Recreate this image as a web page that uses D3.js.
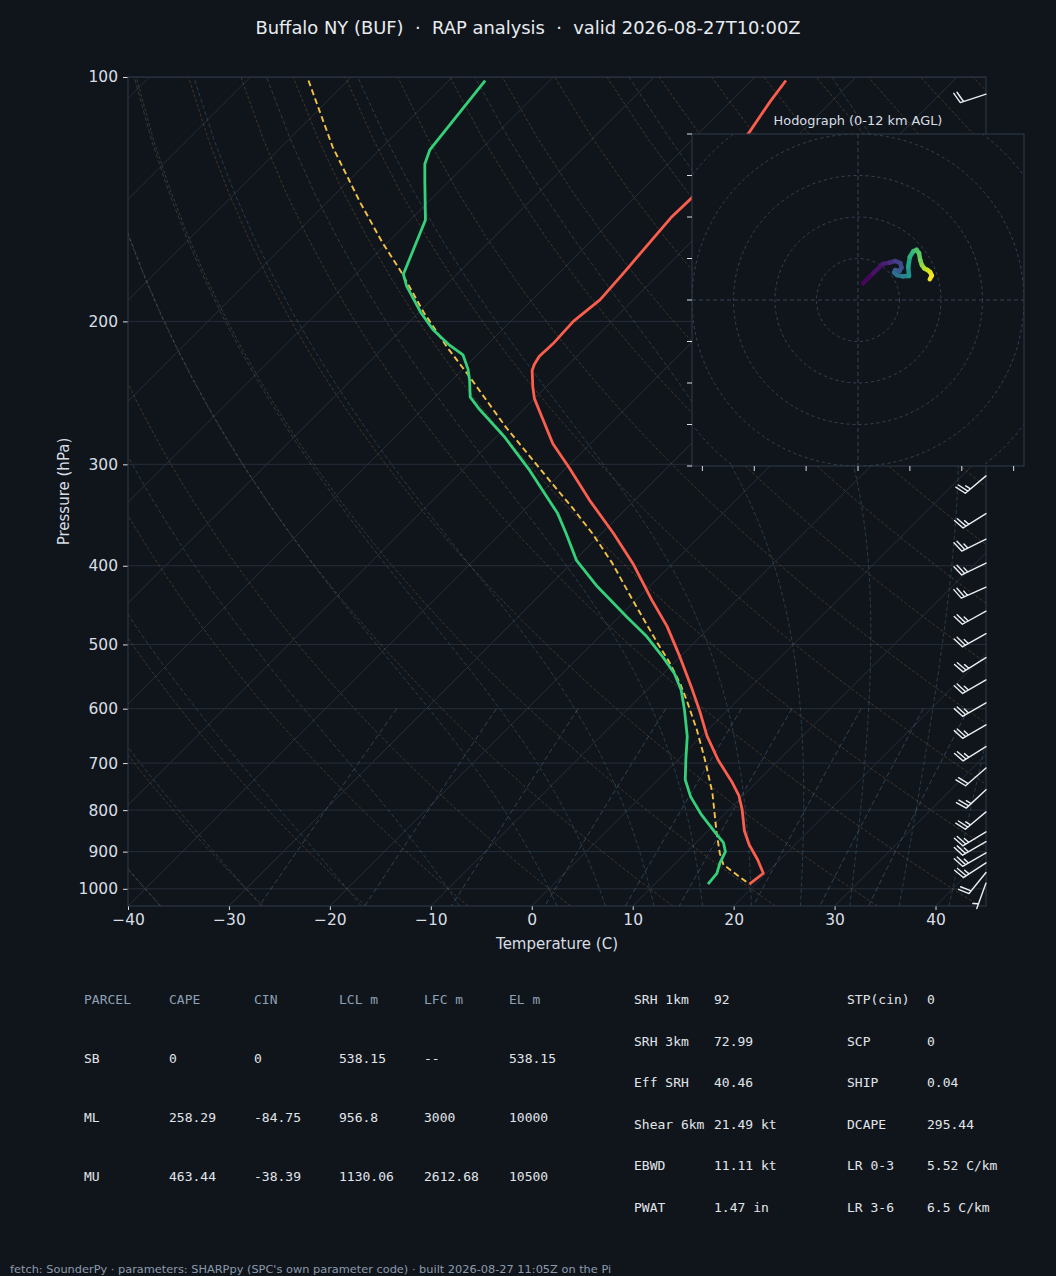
<!DOCTYPE html>
<html>
<head>
<meta charset="utf-8">
<script src="https://cdn.jsdelivr.net/npm/d3@7"></script>
<style>
  html, body { margin: 0; padding: 0; background: #10151c; }
  svg { display: block; }
</style>
</head>
<body>
<div id="chart"></div>
<script>
// ---- sounding values ----
const tempP = [101, 107, 117, 141, 149, 175, 188, 200, 213, 221, 226, 230, 241, 249, 262, 283, 303, 332, 365, 399, 441, 475, 518, 564, 605, 648, 694, 738, 768, 799, 848, 883, 921, 957, 987];
const tempC = [-56.6, -56.1, -55.1, -54.3, -54.4, -53.6, -53.3, -53.8, -53.6, -53.7, -53.4, -53.0, -51.3, -50.0, -47.5, -43.7, -39.7, -34.5, -28.8, -23.7, -18.4, -14.3, -10.0, -5.9, -2.6, 0.5, 4.0, 7.5, 9.6, 11.3, 13.6, 15.5, 17.8, 19.7, 19.4];

const dewP = [101, 123, 128, 134, 150, 175, 181, 195, 205, 214, 220, 229, 236, 248, 257, 277, 305, 345, 365, 394, 424, 462, 489, 518, 543, 569, 602, 649, 694, 734, 770, 811, 854, 877, 900, 930, 957, 987];
const dewC = [-86.4, -85.0, -84.1, -82.5, -78.5, -75.3, -73.8, -69.8, -66.8, -63.7, -61.4, -59.5, -58.3, -56.5, -54.3, -49.3, -43.4, -36.3, -33.5, -29.8, -25.2, -19.3, -15.3, -11.7, -8.9, -6.6, -4.3, -1.4, 0.8, 2.7, 4.9, 7.8, 11.0, 12.7, 13.8, 14.4, 15.1, 15.3];

const parcelP = [101, 122, 143, 160, 174, 195, 215, 234, 270, 315, 340, 365, 397, 441, 498, 527, 558, 585, 637, 694, 762, 854, 904, 934, 987];
const parcelC = [-103.9, -94.9, -86.6, -80.5, -75.7, -69.5, -63.8, -58.6, -50.0, -40.2, -35.3, -30.9, -26.0, -20.3, -13.6, -10.4, -7.4, -5.1, -1.1, 2.7, 6.7, 11.1, 13.4, 14.9, 19.4];

// wind barbs (hPa, direction deg, knots)
const barbP = [105, 125, 150, 175, 200, 225, 250, 280, 310, 345, 371, 397, 425, 455, 485, 519, 553, 590, 628, 668, 710, 755, 804, 851, 875, 903, 929, 955, 984];
const barbDir = [252, 250, 248, 245, 243, 240, 238, 235, 230, 238, 244, 244, 246, 241, 241, 238, 240, 240, 240, 238, 229, 227, 230, 239, 240, 240, 237, 219, 200];
const barbKt = [20, 30, 35, 35, 35, 30, 30, 25, 25, 25, 25, 25, 25, 25, 25, 25, 25, 25, 25, 25, 20, 25, 25, 25, 25, 25, 25, 20, 5];

// hodograph trace 0-12 km
const hodoU = [1.2, 3.6, 6.0, 7.6, 9.0, 10.2, 10.5, 10.0, 9.0, 8.7, 9.4, 10.8, 12.3, 12.1, 12.5, 13.3, 14.1, 14.7, 15.0, 15.4, 16.0, 16.8, 17.4, 17.8, 17.3];
const hodoV = [4.0, 6.4, 8.7, 9.0, 9.4, 8.9, 7.8, 7.0, 7.2, 6.6, 6.0, 5.7, 5.8, 8.0, 10.4, 11.7, 12.1, 11.3, 9.6, 8.4, 7.6, 7.2, 6.7, 5.9, 5.0];
const hodoKm = [0, 0.4, 0.8, 1.2, 1.9, 2.4, 2.8, 3.1, 3.4, 3.8, 4.3, 4.9, 5.6, 6.6, 7.4, 8.0, 8.4, 8.8, 9.3, 9.8, 10.3, 10.8, 11.3, 11.7, 12.0];
const hodoRings = [10, 20, 30, 40, 50, 60];
const hodoTicksX = [-37.5, -25, -12.5, 0, 12.5, 25, 37.5];
const hodoTicksY = [-40, -30, -20, -10, 0, 10, 20, 30, 40];

// axis ticks
const pTicks = [1000, 900, 800, 700, 600, 500, 400, 300, 200, 100];
const tTicks = [-40, -30, -20, -10, 0, 10, 20, 30, 40];

// parameter tables
const parcelHeader = ["PARCEL", "CAPE", "CIN", "LCL m", "LFC m", "EL m"];
const parcelRows = [
  ["SB", "0", "0", "538.15", "--", "538.15"],
  ["ML", "258.29", "-84.75", "956.8", "3000", "10000"],
  ["MU", "463.44", "-38.39", "1130.06", "2612.68", "10500"]
];
const paramLabels1 = ["SRH 1km", "SRH 3km", "Eff SRH", "Shear 6km", "EBWD", "PWAT"];
const paramValues1 = ["92", "72.99", "40.46", "21.49 kt", "11.11 kt", "1.47 in"];
const paramLabels2 = ["STP(cin)", "SCP", "SHIP", "DCAPE", "LR 0-3", "LR 3-6"];
const paramValues2 = ["0", "0", "0.04", "295.44", "5.52 C/km", "6.5 C/km"];

// ---- layout ----
const width = 1056, height = 1276;
const plot = {left: 128, right: 986, top: 77, bottom: 906};
const bg = "#10151c";
const spine = "#2f3a48";
const gridCol = "#262e39";
const textCol = "#d9dee4";

const svg = d3.select("#chart").append("svg")
  .attr("width", width).attr("height", height)
  .style("font-family", "'DejaVu Sans', sans-serif");

svg.append("rect").attr("width", width).attr("height", height).attr("fill", bg);

const x = d3.scaleLinear().domain([-40, 45]).range([plot.left, plot.right]);
const y = d3.scaleLog().domain([1050, 100]).range([plot.bottom, plot.top]);
// 45 degree skew in pixels
const sx = (t, p) => x(t) + (plot.bottom - y(p));

svg.append("defs").append("clipPath").attr("id", "plotClip")
  .append("rect")
  .attr("x", plot.left).attr("y", plot.top)
  .attr("width", plot.right - plot.left).attr("height", plot.bottom - plot.top);

const g = svg.append("g").attr("clip-path", "url(#plotClip)");

// isobars
g.selectAll(".isobar").data(pTicks).join("line")
  .attr("x1", plot.left).attr("x2", plot.right)
  .attr("y1", d => y(d)).attr("y2", d => y(d))
  .attr("stroke", gridCol).attr("stroke-width", 1);

// isotherms
g.selectAll(".isotherm").data(d3.range(-130, 50, 10)).join("line")
  .attr("x1", d => sx(d, 1050)).attr("y1", y(1050))
  .attr("x2", d => sx(d, 100)).attr("y2", y(100))
  .attr("stroke", gridCol).attr("stroke-width", 1);

const line = d3.line().x(d => sx(d[1], d[0])).y(d => y(d[0]));
const levels = d3.range(50).map(i => 1050 - i * (950 / 49));

// dry adiabats
const dryT0 = d3.range(-40, 246, 10);
g.selectAll(".dry").data(dryT0).join("path")
  .attr("d", t0 => line(levels.map(p => [p, (t0 + 273.15) * Math.pow(p / 1000, 0.2857) - 273.15])))
  .attr("fill", "none").attr("stroke", "rgba(205,140,65,0.3)")
  .attr("stroke-width", 0.9).attr("stroke-dasharray", "3,2");

// moist adiabats
const Rd = 287.04749, Cp = 1004.666, Lv = 2.50084e6, eps = 0.62196;
function dTdp(p, T) {
  const es = 6.112 * Math.exp(17.67 * (T - 273.15) / (T - 29.65));
  const rs = eps * es / (p - es);
  return (Rd * T + Lv * rs) / (Cp + Lv * Lv * rs * eps / (Rd * T * T)) / p;
}
function moistAt(t0, p) {
  let T = t0 + 273.15, cur = 1000;
  const n = Math.max(4, Math.ceil(Math.abs(p - cur) / 4));
  const h = (p - cur) / n;
  for (let i = 0; i < n; i++) {
    const k1 = dTdp(cur, T);
    const k2 = dTdp(cur + h / 2, T + h / 2 * k1);
    const k3 = dTdp(cur + h / 2, T + h / 2 * k2);
    const k4 = dTdp(cur + h, T + h * k3);
    T += h / 6 * (k1 + 2 * k2 + 2 * k3 + k4);
    cur += h;
  }
  return T - 273.15;
}
const moistT0 = [-40, -30, -20, -10, 0, 5, 10, 15, 20, 25, 30, 35, 40, 45];
g.selectAll(".moist").data(moistT0).join("path")
  .attr("d", t0 => line(levels.map(p => [p, moistAt(t0, p)])))
  .attr("fill", "none").attr("stroke", "rgba(85,140,160,0.36)")
  .attr("stroke-width", 0.9).attr("stroke-dasharray", "4,2.5");

// mixing ratio lines
const mixW = [0.0004, 0.001, 0.002, 0.004, 0.007, 0.01, 0.016, 0.024, 0.032];
const mixLevels = d3.range(30).map(i => 600 + i * (450 / 29));
g.selectAll(".mix").data(mixW).join("path")
  .attr("d", w => line(mixLevels.map(p => {
    const e = w * p / (eps + w);
    const l = Math.log(e / 6.112);
    return [p, 243.5 * l / (17.67 - l)];
  })))
  .attr("fill", "none").attr("stroke", "rgba(95,130,165,0.45)")
  .attr("stroke-width", 0.9).attr("stroke-dasharray", "5,3");

// profiles
g.append("path").datum(d3.zip(parcelP, parcelC)).attr("d", line)
  .attr("fill", "none").attr("stroke", "#f3c146").attr("stroke-width", 1.9)
  .attr("stroke-dasharray", "6,3.5");
g.append("path").datum(d3.zip(dewP, dewC)).attr("d", line)
  .attr("fill", "none").attr("stroke", "#34d07a").attr("stroke-width", 2.8)
  .attr("stroke-linejoin", "round");
g.append("path").datum(d3.zip(tempP, tempC)).attr("d", line)
  .attr("fill", "none").attr("stroke", "#fb5e4c").attr("stroke-width", 2.8)
  .attr("stroke-linejoin", "round");

// axes
const xAxis = svg.append("g").attr("transform", `translate(0,${plot.bottom})`)
  .call(d3.axisBottom(x).tickValues(tTicks).tickSize(4).tickPadding(4));
const yAxis = svg.append("g").attr("transform", `translate(${plot.left},0)`)
  .call(d3.axisLeft(y).tickValues(pTicks).tickFormat(d3.format("d")).tickSize(5).tickPadding(5));
[xAxis, yAxis].forEach(a => {
  a.select(".domain").remove();
  a.selectAll(".tick line").attr("stroke", textCol);
  a.selectAll(".tick text").attr("fill", textCol)
    .style("font-family", "'DejaVu Sans', sans-serif").style("font-size", "15.5px");
});

svg.append("rect")
  .attr("x", plot.left).attr("y", plot.top)
  .attr("width", plot.right - plot.left).attr("height", plot.bottom - plot.top)
  .attr("fill", "none").attr("stroke", spine).attr("stroke-width", 1);

svg.append("text").attr("x", (plot.left + plot.right) / 2).attr("y", 949)
  .attr("text-anchor", "middle").attr("fill", textCol).style("font-size", "15px")
  .text("Temperature (C)");
svg.append("text").attr("transform", `translate(69,${(plot.top + plot.bottom) / 2}) rotate(-90)`)
  .attr("text-anchor", "middle").attr("fill", textCol).style("font-size", "15px")
  .text("Pressure (hPa)");

// title
svg.append("text").attr("x", width / 2).attr("y", 33.5)
  .attr("text-anchor", "middle").attr("fill", "#e8ebef")
  .style("font-size", "17.9px").style("white-space", "pre")
  .text("Buffalo NY (BUF)  \u00b7  RAP analysis  \u00b7  valid 2026-08-27T10:00Z");

// wind barbs
const staff = 27, bSpace = 0.125 * staff, bHeight = 0.4 * staff, bWidth = 0.25 * staff;
const barbG = svg.append("g").attr("stroke", "#e9edf1").attr("stroke-width", 1.4)
  .attr("fill", "none").attr("stroke-linecap", "round");
d3.zip(barbP, barbDir, barbKt).forEach(([p, dir, kt]) => {
  const b = dir * Math.PI / 180;
  const dx = Math.sin(b), dy = -Math.cos(b);
  const nx = Math.cos(b), ny = Math.sin(b);
  const px = plot.right, py = y(p);
  const ex = px + staff * dx, ey = py + staff * dy;
  let d = `M${px},${py}L${ex},${ey}`;
  const full = Math.floor(kt / 10), half = (kt % 10) >= 5;
  let off = 0;
  for (let i = 0; i < full; i++) {
    const bx = ex - off * dx, by = ey - off * dy;
    d += `M${bx},${by}L${bx + bHeight * nx + bWidth / 2 * dx},${by + bHeight * ny + bWidth / 2 * dy}`;
    off += bSpace;
  }
  if (half) {
    if (full === 0) off += 1.5 * bSpace;
    const bx = ex - off * dx, by = ey - off * dy;
    d += `M${bx},${by}L${bx + bHeight / 2 * nx + bWidth / 4 * dx},${by + bHeight / 2 * ny + bWidth / 4 * dy}`;
  }
  barbG.append("path").attr("d", d);
});

// ---- hodograph inset ----
const hodo = {left: 692, right: 1024, top: 134, bottom: 466};
const hx = d3.scaleLinear().domain([-40, 40]).range([hodo.left, hodo.right]);
const hy = d3.scaleLinear().domain([-40, 40]).range([hodo.bottom, hodo.top]);
const hk = (hodo.right - hodo.left) / 80;

svg.select("defs").append("clipPath").attr("id", "hodoClip")
  .append("rect").attr("x", hodo.left).attr("y", hodo.top)
  .attr("width", hodo.right - hodo.left).attr("height", hodo.bottom - hodo.top);

svg.append("rect").attr("x", hodo.left).attr("y", hodo.top)
  .attr("width", hodo.right - hodo.left).attr("height", hodo.bottom - hodo.top)
  .attr("fill", bg);

const hg = svg.append("g").attr("clip-path", "url(#hodoClip)");
hg.selectAll(".ring").data(hodoRings).join("circle")
  .attr("cx", hx(0)).attr("cy", hy(0)).attr("r", d => d * hk)
  .attr("fill", "none").attr("stroke", "#364252").attr("stroke-width", 1)
  .attr("stroke-dasharray", "3,3");
hg.append("line").attr("x1", hodo.left).attr("x2", hodo.right).attr("y1", hy(0)).attr("y2", hy(0))
  .attr("stroke", "#364252").attr("stroke-dasharray", "4,3");
hg.append("line").attr("y1", hodo.top).attr("y2", hodo.bottom).attr("x1", hx(0)).attr("x2", hx(0))
  .attr("stroke", "#364252").attr("stroke-dasharray", "4,3");

const hodoPts = d3.zip(hodoU, hodoV, hodoKm);
hg.selectAll(".hseg").data(d3.pairs(hodoPts)).join("line")
  .attr("x1", d => hx(d[0][0])).attr("y1", d => hy(d[0][1]))
  .attr("x2", d => hx(d[1][0])).attr("y2", d => hy(d[1][1]))
  .attr("stroke", d => d3.interpolateViridis((d[0][2] + d[1][2]) / 24))
  .attr("stroke-width", 4.5).attr("stroke-linecap", "round");

svg.append("rect").attr("x", hodo.left).attr("y", hodo.top)
  .attr("width", hodo.right - hodo.left).attr("height", hodo.bottom - hodo.top)
  .attr("fill", "none").attr("stroke", spine).attr("stroke-width", 1);

svg.append("g").selectAll("line").data(hodoTicksY).join("line")
  .attr("x1", hodo.left - 5).attr("x2", hodo.left).attr("y1", d => hy(d)).attr("y2", d => hy(d))
  .attr("stroke", textCol);
svg.append("g").selectAll("line").data(hodoTicksX).join("line")
  .attr("y1", hodo.bottom).attr("y2", hodo.bottom + 5).attr("x1", d => hx(d)).attr("x2", d => hx(d))
  .attr("stroke", textCol);

svg.append("text").attr("x", (hodo.left + hodo.right) / 2).attr("y", 124.5)
  .attr("text-anchor", "middle").attr("fill", textCol).style("font-size", "12.9px")
  .text("Hodograph (0-12 km AGL)");

// ---- tables ----
const mono = "'DejaVu Sans Mono', monospace";
const colX = [84, 169, 254, 339, 424, 509];
const rowY = [1004, 1063, 1122, 1181];
const tab = svg.append("g").style("font-family", mono).style("font-size", "13px");
parcelHeader.forEach((h, i) => {
  tab.append("text").attr("x", colX[i]).attr("y", rowY[0]).attr("fill", "#8ea0b4").text(h);
});
parcelRows.forEach((row, r) => row.forEach((v, i) => {
  tab.append("text").attr("x", colX[i]).attr("y", rowY[r + 1]).attr("fill", "#e1e5ea").text(v);
}));

const pRowY = [1004, 1046, 1087, 1129, 1170, 1212];
paramLabels1.forEach((l, i) => {
  tab.append("text").attr("x", 634).attr("y", pRowY[i]).attr("fill", "#e1e5ea").text(l);
  tab.append("text").attr("x", 714).attr("y", pRowY[i]).attr("fill", "#e1e5ea").text(paramValues1[i]);
  tab.append("text").attr("x", 847).attr("y", pRowY[i]).attr("fill", "#e1e5ea").text(paramLabels2[i]);
  tab.append("text").attr("x", 927).attr("y", pRowY[i]).attr("fill", "#e1e5ea").text(paramValues2[i]);
});

// footer
svg.append("text").attr("x", 10).attr("y", 1273)
  .attr("fill", "#8d9aab").style("font-size", "11.35px")
  .text("fetch: SounderPy \u00b7 parameters: SHARPpy (SPC's own parameter code) \u00b7 built 2026-08-27 11:05Z on the Pi");
</script>
</body>
</html>
